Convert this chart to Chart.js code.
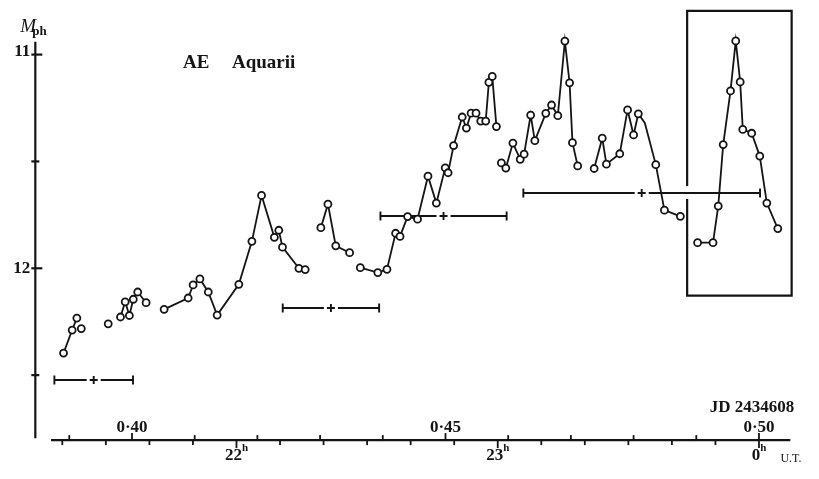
<!DOCTYPE html>
<html>
<head>
<meta charset="utf-8">
<script src="https://cdn.jsdelivr.net/npm/chart.js@4.4.0/dist/chart.umd.min.js"></script>
<style>
  html, body { margin: 0; padding: 0; background: #fff; }
  #wrap { width: 819px; height: 479px; }
</style>
</head>
<body>
<div id="wrap"><canvas id="lightCurve" width="819" height="479"></canvas></div>
<script>
// == observations (U.T. hours, 24 = 0h next day) == //
const utHours = [
  21.338, 21.371, 21.389, null, 21.406, null, 21.509, null,
  21.556, 21.574, 21.590, 21.605, 21.622, 21.654, null,
  21.723, 21.815, 21.834, 21.860, 21.892, 21.926, 22.009, 22.059, 22.096, 22.145, 22.162, 22.176, 22.239, 22.263, null,
  22.323, 22.350, 22.380, 22.433, null,
  22.474, 22.541, 22.576, 22.609, 22.626, 22.655, 22.693, 22.733, 22.765, 22.799, 22.810, 22.831, 22.864, 22.880, 22.898, 22.917, 22.935, 22.954, 22.966, 22.979, 22.995, null,
  23.014, 23.031, 23.058, 23.086, 23.101, 23.126, 23.142, 23.184, 23.206, 23.230, 23.257, 23.275, 23.286, 23.306, null,
  23.369, 23.400, 23.416, 23.467, 23.497, 23.520, 23.538, 23.563, 23.605, 23.638, 23.699, null,
  23.765, 23.824, 23.844, 23.863, 23.891, 23.911, 23.928, 23.938, 23.972, 24.003, 24.030, 24.072
];
const magnitudes = [
  12.397, 12.289, 12.233, null, 12.282, null, 12.260, null,
  12.228, 12.157, 12.221, 12.145, 12.111, 12.161, null,
  12.192, 12.139, 12.078, 12.050, 12.111, 12.219, 12.075, 11.874, 11.659, 11.855, 11.822, 11.901, 12.000, 12.006, null,
  11.810, 11.700, 11.895, 11.927, null,
  11.997, 12.020, 12.005, 11.836, 11.851, 11.758, 11.770, 11.569, 11.695, 11.530, 11.553, 11.426, 11.292, 11.344, 11.274, 11.274, 11.311, 11.311, 11.130, 11.102, 11.337, null,
  11.507, 11.531, 11.414, 11.490, 11.466, 11.283, 11.403, 11.275, 11.236, 11.286, 10.937, 11.132, 11.412, 11.521, null,
  11.533, 11.391, 11.513, 11.464, 11.259, 11.376, 11.277, 11.320, 11.515, 11.728, 11.757, null,
  11.880, 11.880, 11.709, 11.421, 11.170, 10.936, 11.128, 11.350, 11.368, 11.475, 11.695, 11.814
];
// bend without a circle
const hiddenPoint = 23.563;

// averaging intervals (bars with +)
const barStart = [21.303, 22.177, 22.551, 23.098];
const barEnd = [21.604, 22.546, 23.034, 24.004];
const barMag = [12.522, 12.184, 11.753, 11.648];

// boxed flare
const boxHours = [23.725, 24.125];
const boxMags = [10.795, 12.128];

// axes
const magTicks = [11, 11.5, 12, 12.5];
const magLabels = ['11', '', '12', ''];
const utTicks = [21.3333, 21.5, 21.6667, 21.8333, 22, 22.1667, 22.3333, 22.5, 22.6667, 22.8333, 23, 23.1667, 23.3333, 23.5, 23.6667, 23.8333, 24];
const utLabels = { 22: '22', 23: '23', 24: '0' };
const jdTicks = [0.39, 0.40, 0.41, 0.42, 0.43, 0.44, 0.45, 0.46, 0.47, 0.48, 0.49, 0.50];
const jdLabels = { '0.4': '0·40', '0.45': '0·45', '0.5': '0·50' };

const INK = '#141414';
const SERIF = '"Liberation Serif", "DejaVu Serif", serif';
const jdToHour = (jd) => 24 - (0.50 - jd) * 24;

const points = utHours.map((h, i) => (h === null ? { x: NaN, y: null } : { x: h, y: magnitudes[i] }));

const platePlugin = {
  id: 'plate',
  beforeDatasetsDraw(chart) {
    const { ctx, scales: { x, y } } = chart;
    ctx.save();
    ctx.strokeStyle = INK;
    ctx.fillStyle = INK;
    ctx.lineWidth = 1.9;
    ctx.lineCap = 'butt';

    // intervals
    barStart.forEach((s, i) => {
      const x0 = x.getPixelForValue(s);
      const x1 = x.getPixelForValue(barEnd[i]);
      const xc = (x0 + x1) / 2;
      const yy = Math.round(y.getPixelForValue(barMag[i]));
      ctx.beginPath();
      ctx.moveTo(x0, yy); ctx.lineTo(xc - 7, yy);
      ctx.moveTo(xc + 7, yy); ctx.lineTo(x1, yy);
      ctx.moveTo(x0, yy - 4.5); ctx.lineTo(x0, yy + 4.5);
      ctx.moveTo(x1, yy - 4.5); ctx.lineTo(x1, yy + 4.5);
      ctx.moveTo(xc - 4, yy); ctx.lineTo(xc + 4, yy);
      ctx.moveTo(xc, yy - 4); ctx.lineTo(xc, yy + 4);
      ctx.stroke();
    });

    // box round the flare
    const bx0 = x.getPixelForValue(boxHours[0]);
    const bx1 = x.getPixelForValue(boxHours[1]);
    const by0 = y.getPixelForValue(boxMags[0]);
    const by1 = y.getPixelForValue(boxMags[1]);
    const gap = y.getPixelForValue(barMag[3]);
    ctx.lineWidth = 2.2;
    ctx.beginPath();
    ctx.moveTo(bx0, gap - 7); ctx.lineTo(bx0, by0); ctx.lineTo(bx1, by0);
    ctx.lineTo(bx1, by1); ctx.lineTo(bx0, by1); ctx.lineTo(bx0, gap + 6);
    ctx.stroke();
    ctx.restore();
  },
  afterDatasetsDraw(chart) {
    const { ctx, scales: { x, y } } = chart;
    ctx.save();
    ctx.strokeStyle = INK;
    ctx.fillStyle = INK;
    ctx.lineWidth = 2.2;

    // magnitude axis
    const ax = x.getPixelForValue(21.23);
    ctx.beginPath();
    ctx.moveTo(ax, y.getPixelForValue(10.94));
    ctx.lineTo(ax, y.getPixelForValue(12.795));
    ctx.stroke();
    ctx.font = 'bold 17px ' + SERIF;
    ctx.textAlign = 'right';
    ctx.textBaseline = 'middle';
    magTicks.forEach((m, i) => {
      const yy = y.getPixelForValue(m);
      const w = magLabels[i] ? 7 : 4;
      ctx.beginPath();
      ctx.moveTo(ax - 4, yy); ctx.lineTo(ax + w, yy);
      ctx.stroke();
      if (magLabels[i]) ctx.fillText(magLabels[i], ax - 5, yy - (m === 11 ? 3 : 0));
    });
    ctx.textAlign = 'left';
    ctx.textBaseline = 'alphabetic';
    ctx.font = 'italic 19px ' + SERIF;
    ctx.fillText('M', ax - 15, 32);
    ctx.font = 'bold 13px ' + SERIF;
    ctx.fillText('ph', ax - 3, 35);

    // time axis
    const ay = y.getPixelForValue(12.804);
    ctx.beginPath();
    ctx.moveTo(x.getPixelForValue(21.29), ay);
    ctx.lineTo(x.getPixelForValue(24.12), ay);
    ctx.stroke();
    ctx.lineWidth = 1.8;
    utTicks.forEach((h) => {
      const xx = x.getPixelForValue(h);
      const key = Math.round(h * 1000) / 1000;
      const major = utLabels[key] !== undefined;
      ctx.beginPath();
      ctx.moveTo(xx, ay); ctx.lineTo(xx, ay + (major ? 8 : 5));
      ctx.stroke();
      if (major) {
        ctx.font = 'bold 17px ' + SERIF;
        ctx.textAlign = 'center';
        ctx.fillText(utLabels[key], xx - 3, ay + 20);
        const tw = ctx.measureText(utLabels[key]).width;
        ctx.font = 'bold 11px ' + SERIF;
        ctx.textAlign = 'left';
        ctx.fillText('h', xx - 3 + tw / 2, ay + 11);
      }
    });
    ctx.font = '12px ' + SERIF;
    ctx.textAlign = 'left';
    ctx.fillText('U.T.', x.getPixelForValue(24.082), ay + 22);

    ctx.textAlign = 'center';
    jdTicks.forEach((jd) => {
      const xx = x.getPixelForValue(jdToHour(jd));
      const lab = jdLabels[String(Math.round(jd * 100) / 100)];
      ctx.beginPath();
      ctx.moveTo(xx, ay); ctx.lineTo(xx, ay - (lab ? 7 : 5));
      ctx.stroke();
      if (lab) {
        ctx.font = 'bold 17px ' + SERIF;
        ctx.fillText(lab, xx, ay - 8);
      }
    });
    ctx.font = 'bold 17px ' + SERIF;
    ctx.textAlign = 'right';
    ctx.fillText('JD 2434608', x.getPixelForValue(24.135), ay - 28);

    // title
    ctx.font = 'bold 19px ' + SERIF;
    ctx.textAlign = 'left';
    ctx.fillText('AE', 183, 68);
    ctx.fillText('Aquarii', 232, 68);
    ctx.restore();
  }
};

new Chart(document.getElementById('lightCurve'), {
  type: 'line',
  data: {
    datasets: [{
      label: 'AE Aquarii',
      data: points,
      borderColor: INK,
      borderWidth: 1.8,
      pointRadius: utHours.map((h) => (h === hiddenPoint ? 0 : 3.5)),
      pointBorderWidth: 1.8,
      pointBorderColor: INK,
      pointBackgroundColor: '#fff',
      spanGaps: false,
      tension: 0,
      clip: false
    }]
  },
  options: {
    responsive: false,
    animation: false,
    layout: { padding: 0 },
    scales: {
      x: { type: 'linear', min: 21.117, max: 24.2075, display: false },
      y: { type: 'linear', reverse: true, min: 10.7717, max: 12.9589, display: false }
    },
    plugins: {
      legend: { display: false },
      tooltip: { enabled: false }
    }
  },
  plugins: [platePlugin]
});
</script>
</body>
</html>
